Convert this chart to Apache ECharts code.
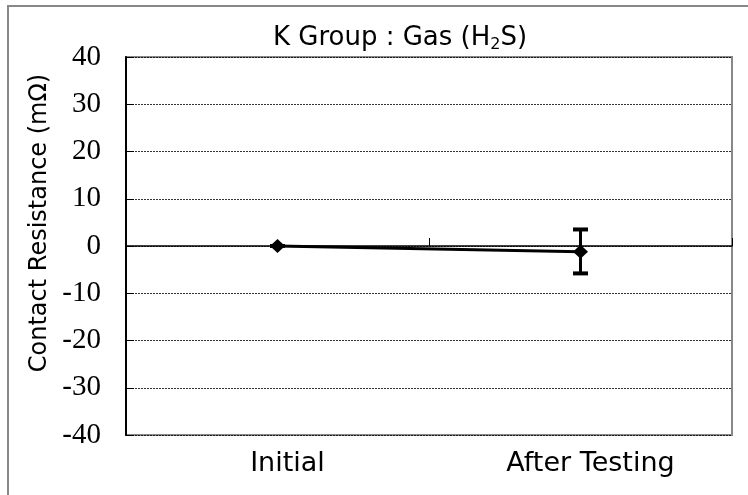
<!DOCTYPE html>
<html><head><meta charset="utf-8">
<script src="https://cdn.jsdelivr.net/npm/echarts@6/dist/echarts.min.js"></script>
<style>html,body{margin:0;padding:0;background:#fff}#c{width:748px;height:495px}</style>
</head><body><div id="c"></div>
<script>
var categories = ['Initial', 'After Testing'];
var means = [0, -1.2];
var errLow = [0, -5.8];
var errHigh = [0, 3.5];
var yTicks = [-40, -30, -20, -10, 0, 10, 20, 30, 40];

var chart = echarts.init(document.getElementById('c'), null, {renderer: 'canvas'});
var sans = 'DejaVu Sans';
var serif = 'Liberation Serif';
var gridL = 126, gridT = 57, gridW = 606, gridH = 378;

chart.setOption({
  animation: false,
  title: {
    text: 'K Group : Gas (H{sub|2}S)',
    left: 395, top: 19, textAlign: 'center',
    textStyle: {
      fontFamily: sans, fontSize: 26, fontWeight: 'normal', color: '#000',
      rich: {sub: {fontFamily: sans, fontSize: 16, fontWeight: 'normal', verticalAlign: 'bottom', padding: [13, 0, 0, 0], color: '#000'}}
    }
  },
  graphic: [
    {type: 'rect', shape: {x: 8, y: 6, width: 760, height: 510}, style: {fill: 'none', stroke: '#888', lineWidth: 2}, z: -10},
    {type: 'rect', shape: {x: gridL, y: gridT, width: gridW, height: gridH}, style: {fill: 'none', stroke: '#888', lineWidth: 2}, z: -5},
    {type: 'text', rotation: Math.PI / 2, x: 40, y: 223,
     style: {text: 'Contact Resistance (mΩ)', fontFamily: sans, fontSize: 24, fill: '#000', align: 'center', verticalAlign: 'middle'}}
  ],
  grid: {left: gridL, top: gridT, width: gridW, height: gridH, show: false},
  xAxis: [{
    type: 'category', data: categories, boundaryGap: true,
    position: 'bottom',
    axisLine: {show: false, onZero: false},
    axisTick: {show: false},
    axisLabel: {fontFamily: sans, fontSize: 27, color: '#000', margin: 15, padding: [0, 0, 0, 20]}
  }, {
    type: 'category', data: categories, boundaryGap: true,
    position: 'top',
    axisLine: {show: true, onZero: true, lineStyle: {color: '#000', width: 1.5}},
    axisTick: {show: true, inside: false, length: 8, lineStyle: {color: '#000'}},
    axisLabel: {show: false}
  }],
  yAxis: {
    type: 'value', min: -40, max: 40, interval: 10,
    axisLine: {show: true, onZero: false, lineStyle: {color: '#000', width: 2}},
    axisTick: {show: true, inside: true, length: 8, lineStyle: {color: '#000'}},
    axisLabel: {fontFamily: serif, fontSize: 29, color: '#000', margin: 25},
    splitLine: {show: true, lineStyle: {color: '#000', type: [2, 1], width: 1, opacity: 0.8}}
  },
  series: [{
    type: 'line', data: means, xAxisIndex: 0,
    symbol: 'diamond', symbolSize: [15, 14],
    lineStyle: {color: '#000', width: 3},
    itemStyle: {color: '#000'}, z: 5
  }, {
    type: 'custom', xAxisIndex: 0, z: 4,
    data: categories.map(function (c, i) { return [i, errLow[i], errHigh[i]]; }),
    renderItem: function (params, api) {
      var lo = api.coord([api.value(0), api.value(1)]);
      var hi = api.coord([api.value(0), api.value(2)]);
      var w = 7.5;
      return {type: 'group', children: [
        {type: 'line', shape: {x1: lo[0], y1: lo[1], x2: hi[0], y2: hi[1]}, style: {stroke: '#000', lineWidth: 3}},
        {type: 'line', shape: {x1: lo[0] - w, y1: lo[1], x2: lo[0] + w, y2: lo[1]}, style: {stroke: '#000', lineWidth: 4}},
        {type: 'line', shape: {x1: hi[0] - w, y1: hi[1], x2: hi[0] + w, y2: hi[1]}, style: {stroke: '#000', lineWidth: 4}}
      ]};
    }
  }]
});
</script></body></html>
